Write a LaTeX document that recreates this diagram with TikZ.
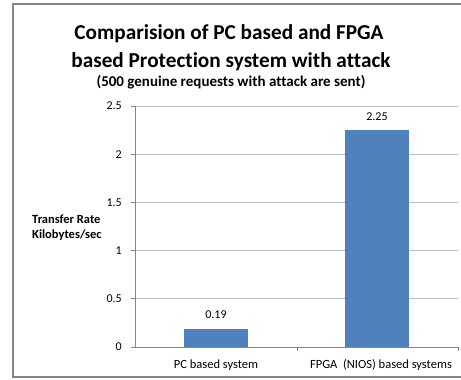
\documentclass[tikz,border=0pt]{standalone}
\usepackage{fontspec}
\setmainfont{Carlito}[Ligatures=NoCommon]
\usepackage{xcolor}
\usetikzlibrary{positioning}

\definecolor{barblue}{HTML}{4F81BD}
\definecolor{framegray}{HTML}{868686}
\definecolor{gridgray}{HTML}{BFBFBF}

\tikzset{
  ticklabel/.style={font=\fontsize{12}{14}\selectfont, anchor=east, inner sep=1pt},
  vallabel/.style={font=\fontsize{12}{14}\selectfont, anchor=base, inner sep=0pt, yshift=10pt},
  catlabel/.style={font=\fontsize{12.5}{14}\selectfont, anchor=base, inner sep=0pt},
  charttitle/.style={font=\fontsize{21.25}{25}\selectfont\bfseries, anchor=base, inner sep=0pt},
}

\begin{document}
\begin{tikzpicture}[
  x=1pt, y=1pt,
]
  \useasboundingbox (0,0) rectangle (461,380);

  % ── Chart frame ──
  \draw[framegray, line width=1.2pt] (13,3) rectangle (470,376);

  % ── Title ──
  \node[charttitle] (title1) at (229,340) {Comparision of PC based and FPGA};
  \node[charttitle] (title2) at (231,312) {based Protection system with attack};
  \node[font=\fontsize{15}{18}\selectfont\bfseries, anchor=base, inner sep=0pt] (subtitle) at (231,293) {(500 genuine requests with attack are sent)};

  % ── Y-axis title ──
  \node[font=\fontsize{12.5}{15}\selectfont\bfseries, align=left, anchor=base west, inner sep=0pt] (ytitle) at (32,141) {Transfer Rate\\Kilobytes/sec};

  \begin{scope}[shift={(135,33)}, x=1pt, y=96.4pt]

    % ── Grid and Y-axis ──
    \foreach \v in {0.5,1,1.5,2,2.5} {
      \draw[gridgray, line width=0.7pt] (0,\v) -- (323,\v);
    }
    \foreach \v in {0,0.5,1,1.5,2,2.5} {
      \draw[framegray, line width=0.7pt] (-4,\v) -- (0,\v);
      \node[ticklabel] (tick\v) at (-12,\v) {\v};
    }
    \draw[framegray, line width=0.7pt] (0,0) -- (0,2.5);

    % ── X-axis ──
    \draw[framegray, line width=0.7pt] (0,0) -- (323,0);
    \foreach \x in {162,323} {
      \draw[framegray, line width=0.7pt] (\x,0) -- (\x,-0.045);
    }

    % ── PC based system ──
    \fill[barblue] (49,0) rectangle (113,0.19);
    \node[vallabel] (valpc) at (81,0.19) {0.19};
    \node[catlabel] (catpc) at (81,-0.218) {PC based system};

    % ── FPGA (NIOS) based systems ──
    \fill[barblue] (210,0) rectangle (274,2.25);
    \node[vallabel] (valfpga) at (242,2.25) {2.25};
    \node[catlabel] (catfpga) at (246,-0.218) {FPGA\ \ (NIOS) based systems};

  \end{scope}

\end{tikzpicture}
\end{document}
